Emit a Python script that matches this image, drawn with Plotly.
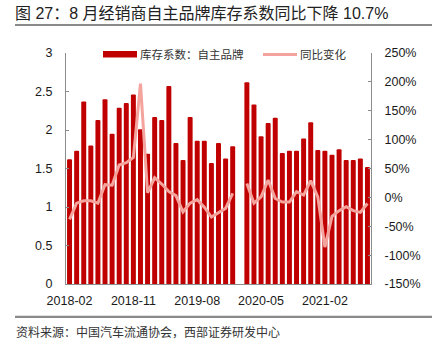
import plotly.graph_objects as go

# ---- data ----
months = [
    "2018-02", "2018-03", "2018-04", "2018-05", "2018-06", "2018-07", "2018-08", "2018-09",
    "2018-10", "2018-11", "2018-12", "2019-01", "2019-02", "2019-03", "2019-04", "2019-05",
    "2019-06", "2019-07", "2019-08", "2019-09", "2019-10", "2019-11", "2019-12", "2020-01",
    "2020-02", "2020-03", "2020-04", "2020-05", "2020-06", "2020-07", "2020-08", "2020-09",
    "2020-10", "2020-11", "2020-12", "2021-01", "2021-02", "2021-03", "2021-04", "2021-05",
    "2021-06", "2021-07", "2021-08",
]
inventory_coef = [
    1.62, 1.73, 2.37, 1.80, 2.13, 2.40, 1.95, 2.29,
    2.35, 2.46, 2.01, 1.69, 2.17, 2.13, 2.57, 1.83,
    1.61, 2.17, 1.86, 1.86, 1.57, 1.83, 1.63, 1.79,
    None, 2.62, 2.33, 1.92, 2.09, 2.16, 1.70, 1.73,
    1.73, 1.89, 2.10, 1.74, 1.73, 1.68, 1.75, 1.61,
    1.61, 1.63, 1.52,
]
yoy_pct = [
    -38, -10, -6, -6, -10, 22, 21, 56,
    60, 69, 197, 8, 34, 23, 10, 3,
    -25, -10, -4, -17, -34, -27, -19, 7,
    None, 24, -10, 1, 30, -2, -8, -8,
    10, 4, 29, 1, -86, -33, -23, -16,
    -23, -26, -10.7,
]
x_tick_labels = ["2018-02", "2018-11", "2019-08", "2020-05", "2021-02"]
left_ticks = [0, 0.5, 1, 1.5, 2, 2.5, 3]
left_tick_text = ["0", "0.5", "1", "1.5", "2", "2.5", "3"]
right_ticks = [-150, -100, -50, 0, 50, 100, 150, 200, 250]
right_tick_text = ["-150%", "-100%", "-50%", "0%", "50%", "100%", "150%", "200%", "250%"]

title_text = "图 27：8 月经销商自主品牌库存系数同比下降 10.7%"
source_text = "资料来源：中国汽车流通协会，西部证券研发中心"
bar_name = "库存系数：自主品牌"
line_name = "同比变化"

BAR_COLOR = "#C00000"
LINE_COLOR = "#F4A39D"
AXIS_COLOR = "#8C8C8C"
RULE_COLOR = "#8a8a8a"
LAT = "Liberation Sans, Arial, Noto Sans CJK SC"
CJK = "Noto Sans CJK SC, Liberation Sans"

W, H = 434, 355
ML, MR, MT, MB = 66, 63, 53, 71
PW, PH = W - ML - MR, H - MT - MB


def px(xp):
    return (xp - ML) / PW


def py(yp):
    return (H - MB - yp) / PH


fig = go.Figure()
fig.add_trace(go.Bar(
    x=months, y=inventory_coef, name=bar_name,
    marker=dict(color=BAR_COLOR, line=dict(width=0), cornerradius=1),
    yaxis="y", showlegend=False,
))
fig.add_trace(go.Scatter(
    x=months, y=yoy_pct, name=line_name, mode="lines",
    line=dict(color=LINE_COLOR, width=3), connectgaps=False,
    yaxis="y2", showlegend=False,
))

fig.update_layout(
    width=W, height=H,
    margin=dict(l=ML, r=MR, t=MT, b=MB, pad=0),
    paper_bgcolor="white", plot_bgcolor="white",
    bargap=0.3,
    xaxis=dict(
        type="category", categoryorder="array", categoryarray=months,
        range=[-0.5, len(months) - 0.5],
        tickmode="array", tickvals=[months[i] for i in (0, 9, 18, 27, 36)],
        ticktext=x_tick_labels, ticks="", showline=True, linecolor=AXIS_COLOR,
        linewidth=1, showgrid=False, zeroline=False,
        tickfont=dict(family=LAT, size=12.5, color="#1a1a1a"),
        ticklabelstandoff=5,
    ),
    yaxis=dict(
        range=[0, 3], tickmode="array", tickvals=left_ticks, ticktext=left_tick_text,
        ticks="inside", ticklen=3, tickcolor=AXIS_COLOR, showline=True,
        linecolor=AXIS_COLOR, linewidth=1, showgrid=False, zeroline=False,
        tickfont=dict(family=LAT, size=12.5, color="#1a1a1a"),
        ticklabelstandoff=10,
    ),
    yaxis2=dict(
        range=[-150, 250], overlaying="y", side="right", tickmode="array",
        tickvals=right_ticks, ticktext=right_tick_text,
        ticks="inside", ticklen=3, tickcolor=AXIS_COLOR, showline=True,
        linecolor=AXIS_COLOR, linewidth=1, showgrid=False, zeroline=False,
        tickfont=dict(family=LAT, size=12.5, color="#1a1a1a"),
        ticklabelstandoff=10,
    ),
)

# title
fig.add_annotation(
    text=title_text, xref="paper", yref="paper", x=px(13), y=py(13),
    xanchor="left", yanchor="middle", showarrow=False,
    font=dict(family=LAT, size=16, color="#222222"),
)
# source
fig.add_annotation(
    text=source_text, xref="paper", yref="paper", x=px(14), y=py(331),
    xanchor="left", yanchor="middle", showarrow=False,
    font=dict(family=CJK, size=12, color="#333333"),
)
# custom legend
fig.add_shape(type="rect", xref="paper", yref="paper", layer="above",
              x0=px(103), x1=px(137), y0=py(57.5), y1=py(51), line=dict(width=0),
              fillcolor=BAR_COLOR)
fig.add_annotation(
    text=bar_name, xref="paper", yref="paper", x=px(138), y=py(54.5),
    xanchor="left", yanchor="middle", showarrow=False,
    font=dict(family=CJK, size=11.5, color="#333333"),
)
fig.add_shape(type="line", xref="paper", yref="paper", layer="above",
              x0=px(263), x1=px(297), y0=py(54.5), y1=py(54.5),
              line=dict(color=LINE_COLOR, width=3))
fig.add_annotation(
    text=line_name, xref="paper", yref="paper", x=px(298), y=py(54.5),
    xanchor="left", yanchor="middle", showarrow=False,
    font=dict(family=CJK, size=11.5, color="#333333"),
)
# horizontal rules under the title and above the source note
for yy in (25, 316.5):
    fig.add_shape(type="line", xref="paper", yref="paper", layer="above",
                  x0=px(15), x1=px(432), y0=py(yy), y1=py(yy),
                  line=dict(color=RULE_COLOR, width=1.5))
    fig.add_annotation(
        text=" ", xref="paper", yref="paper", x=px(15), y=py(yy),
        xanchor="left", yanchor="middle", showarrow=False,
        width=417, height=1.5, borderpad=0, borderwidth=0,
        bgcolor=RULE_COLOR, font=dict(size=1),
    )

fig.write_html(
    "out.html",
    config={"displayModeBar": False},
    post_script="document.body.style.margin='0';",
)
